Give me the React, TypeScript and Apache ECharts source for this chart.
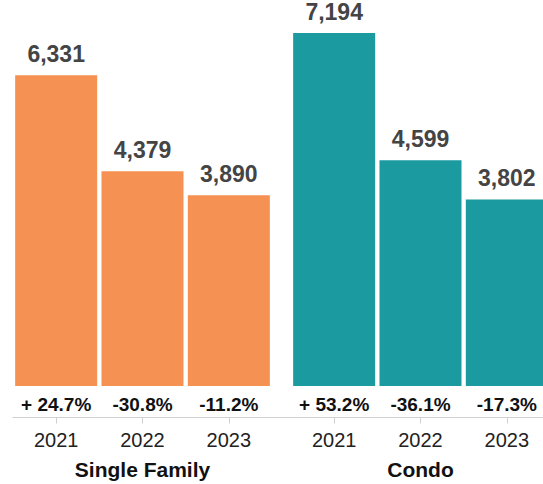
import React, { useEffect, useRef } from "react";
import * as echarts from "echarts";

const years = ["2021", "2022", "2023"];
const singleFamily = [6331, 4379, 3890];
const condo = [7194, 4599, 3802];
const singleFamilyChange = ["+ 24.7%", "-30.8%", "-11.2%"];
const condoChange = ["+ 53.2%", "-36.1%", "-17.3%"];
const groupNames = ["Single Family", "Condo"];
const colors = ["#F59152", "#1B9AA0"];

const FONT = '"Liberation Sans", Arial, Helvetica, sans-serif';

export default function App() {
  const ref = useRef<HTMLDivElement>(null);

  useEffect(() => {
    document.body.style.margin = "0";
    if (!ref.current) return;
    const chart = echarts.init(ref.current, undefined, { renderer: "svg" });

    const grids = [
      { left: 13, width: 259, top: 18, bottom: 98, outerBoundsMode: "none", containLabel: false },
      { left: 291, width: 259, top: 18, bottom: 98, outerBoundsMode: "none", containLabel: false },
    ];

    const yearAxis = (gridIndex: number) => ({
      type: "category",
      gridIndex,
      position: "bottom",
      offset: 31.5,
      data: years,
      axisLine: { show: true, onZero: false, lineStyle: { color: "#d0d0d0", width: 1 } },
      axisTick: { show: true, alignWithLabel: true, length: 6, lineStyle: { color: "#d0d0d0" } },
      axisLabel: { fontSize: 20, color: "#222", fontFamily: FONT, margin: 12, interval: 0, hideOverlap: false },
      name: groupNames[gridIndex],
      nameLocation: "middle",
      nameGap: 41,
      nameTextStyle: { fontSize: 21, fontWeight: "bold", color: "#111", fontFamily: FONT },
    });

    const pctAxis = (gridIndex: number, data: string[]) => ({
      type: "category",
      gridIndex,
      position: "bottom",
      offset: 0,
      data,
      axisLine: { show: false, onZero: false },
      axisTick: { show: false },
      axisLabel: {
        fontSize: 19,
        fontWeight: "bold",
        color: "#111",
        fontFamily: FONT,
        margin: 9,
        interval: 0,
        hideOverlap: false,
      },
    });

    const series = [singleFamily, condo].map((vals, i) => ({
      type: "bar",
      xAxisIndex: i * 2,
      yAxisIndex: i,
      data: vals,
      barCategoryGap: "5%",
      itemStyle: { color: colors[i] },
      label: {
        show: true,
        position: "top",
        distance: 10,
        fontSize: 23,
        fontWeight: "bold",
        color: "#444",
        fontFamily: FONT,
        formatter: (p: any) => Number(p.value).toLocaleString("en-US"),
      },
    }));

    chart.setOption({
      animation: false,
      grid: grids,
      xAxis: [yearAxis(0), pctAxis(0, singleFamilyChange), yearAxis(1), pctAxis(1, condoChange)],
      yAxis: [0, 1].map((g) => ({
        type: "value",
        gridIndex: g,
        min: 0,
        max: 7500,
        show: false,
      })),
      series,
      graphic: [
        {
          type: "line",
          shape: { x1: 272, y1: 417.5, x2: 291, y2: 417.5 },
          style: { stroke: "#d0d0d0", lineWidth: 1 },
          silent: true,
        },
      ],
    });

    return () => chart.dispose();
  }, []);

  return <div ref={ref} style={{ width: 543, height: 484 }} />;
}
